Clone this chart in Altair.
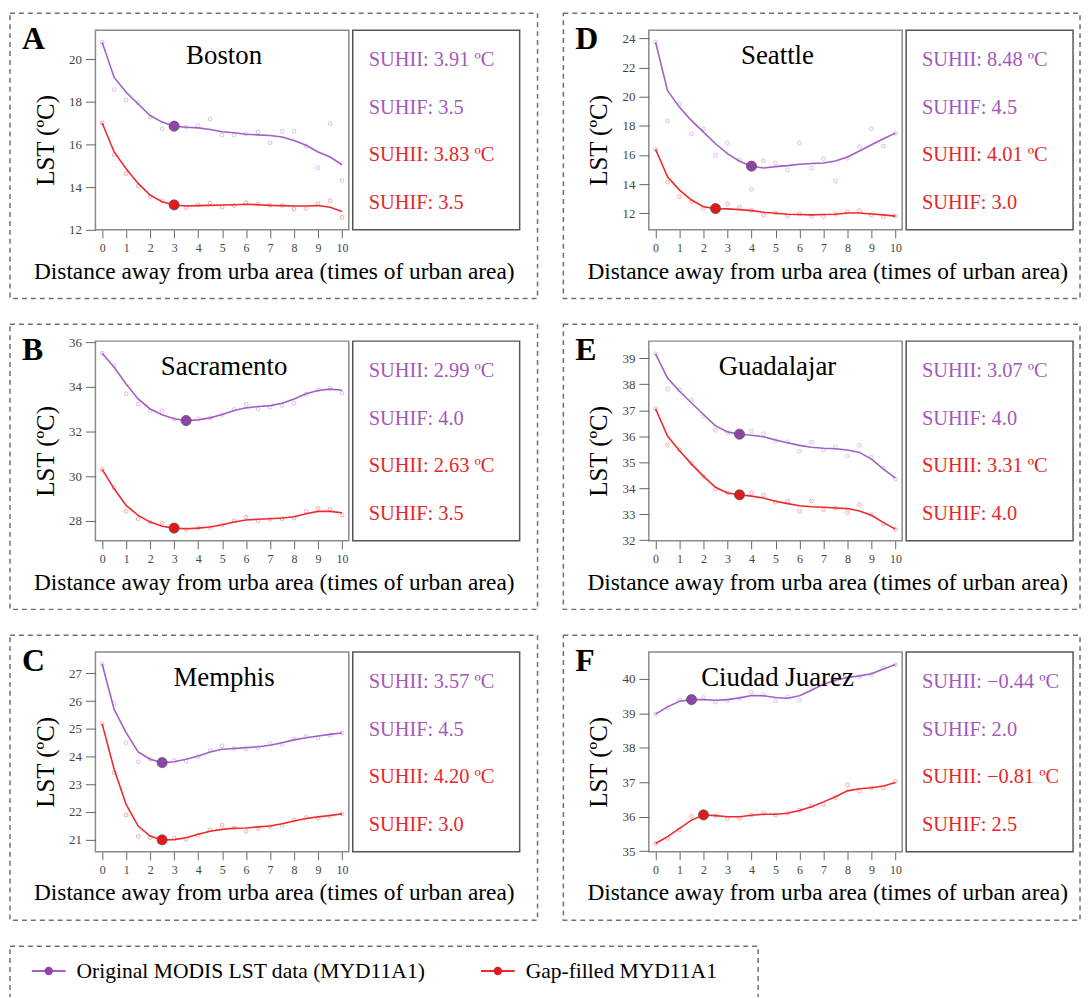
import altair as alt
import pandas as pd

# ---------------- data ----------------
distance = [0.0, 0.5, 1.0, 1.5, 2.0, 2.5, 3.0, 3.5, 4.0, 4.5, 5.0,
            5.5, 6.0, 6.5, 7.0, 7.5, 8.0, 8.5, 9.0, 9.5, 10.0]

series_names = ["Original MODIS LST data (MYD11A1)", "Gap-filled MYD11A1"]

boston_orig_pts = [20.81, 18.58, 18.10, 17.95, 17.28, 16.73, 16.86, 16.81, 16.89, 17.20, 16.44,
                   16.44, 16.50, 16.60, 16.08, 16.62, 16.62, 15.93, 14.90, 16.98, 14.31]
boston_orig_fit = [20.80, 19.15, 18.45, 17.90, 17.36, 17.05, 16.86, 16.81, 16.78, 16.70, 16.60,
                   16.55, 16.48, 16.45, 16.42, 16.35, 16.19, 15.96, 15.65, 15.41, 15.05]
boston_gap_pts = [17.01, 15.52, 14.63, 14.06, 13.56, 13.36, 13.16, 13.03, 13.17, 13.25, 13.06,
                  13.13, 13.27, 13.20, 13.14, 13.13, 12.97, 12.99, 13.22, 13.36, 12.58]
boston_gap_fit = [17.01, 15.65, 14.86, 14.17, 13.62, 13.31, 13.16, 13.11, 13.13, 13.14, 13.16,
                  13.17, 13.19, 13.17, 13.14, 13.13, 13.11, 13.11, 13.13, 13.05, 12.85]

seattle_orig_pts = [23.75, 18.34, 19.50, 17.45, 17.80, 15.98, 16.84, 15.68, 13.64, 15.61, 15.43,
                    14.98, 16.82, 15.11, 15.75, 14.20, 15.77, 16.57, 17.80, 16.61, 17.50]
seattle_orig_fit = [23.75, 20.41, 19.27, 18.36, 17.57, 16.77, 16.09, 15.57, 15.23, 15.11, 15.20,
                    15.27, 15.36, 15.41, 15.45, 15.59, 15.86, 16.27, 16.70, 17.11, 17.50]
seattle_gap_pts = [16.39, 14.14, 13.14, 12.80, 12.34, 12.39, 12.64, 12.39, 12.20, 11.86, 12.02,
                   11.82, 11.95, 11.80, 11.77, 11.93, 12.11, 12.18, 11.89, 11.77, 11.82]
seattle_gap_fit = [16.39, 14.50, 13.59, 12.91, 12.45, 12.32, 12.30, 12.25, 12.18, 12.07, 12.00,
                   11.93, 11.91, 11.89, 11.91, 11.93, 12.02, 12.02, 11.95, 11.89, 11.80]

sacramento_orig_pts = [35.51, 34.96, 33.69, 33.24, 32.91, 32.94, 32.55, 32.49, 32.57, 32.61, 32.76,
                       32.99, 33.22, 33.01, 33.09, 33.16, 33.27, 33.66, 33.87, 33.94, 33.72]
sacramento_orig_fit = [35.51, 34.88, 34.13, 33.46, 33.01, 32.75, 32.57, 32.49, 32.52, 32.61, 32.76,
                       32.94, 33.06, 33.12, 33.16, 33.27, 33.46, 33.69, 33.84, 33.90, 33.85]
sacramento_gap_pts = [30.30, 29.48, 28.42, 28.09, 27.94, 27.90, 27.69, 27.61, 27.67, 27.69, 27.81,
                      28.00, 28.16, 28.00, 28.06, 28.09, 28.12, 28.42, 28.55, 28.51, 28.24]
sacramento_gap_fit = [30.30, 29.43, 28.69, 28.24, 27.94, 27.75, 27.67, 27.64, 27.67, 27.72, 27.82,
                      27.94, 28.03, 28.07, 28.09, 28.12, 28.18, 28.31, 28.42, 28.42, 28.36]

guadalajar_orig_pts = [39.17, 37.81, 37.78, 37.39, 36.78, 36.23, 36.14, 36.08, 36.20, 36.10, 35.82,
                       35.79, 35.42, 35.77, 35.47, 35.58, 35.24, 35.65, 35.19, 34.77, 34.36]
guadalajar_orig_fit = [39.17, 38.24, 37.73, 37.28, 36.84, 36.40, 36.17, 36.08, 36.04, 35.98, 35.86,
                       35.75, 35.65, 35.58, 35.54, 35.52, 35.47, 35.38, 35.12, 34.74, 34.39]
guadalajar_gap_pts = [37.06, 35.67, 35.48, 34.96, 34.46, 33.98, 33.82, 33.75, 33.83, 33.73, 33.47,
                      33.50, 33.12, 33.51, 33.18, 33.24, 33.07, 33.38, 32.99, 32.63, 32.42]
guadalajar_gap_fit = [37.06, 36.01, 35.44, 34.93, 34.46, 34.04, 33.82, 33.75, 33.70, 33.63, 33.50,
                      33.41, 33.33, 33.29, 33.27, 33.24, 33.22, 33.13, 32.96, 32.68, 32.43]

memphis_orig_pts = [27.34, 25.91, 24.50, 23.81, 23.90, 23.78, 23.86, 23.83, 23.99, 24.22, 24.39,
                    24.29, 24.28, 24.32, 24.46, 24.45, 24.64, 24.73, 24.67, 24.76, 24.85]
memphis_orig_fit = [27.34, 25.70, 24.86, 24.17, 23.90, 23.78, 23.81, 23.90, 24.02, 24.16, 24.26,
                    24.29, 24.32, 24.35, 24.41, 24.50, 24.60, 24.68, 24.74, 24.80, 24.85]
memphis_gap_pts = [25.18, 23.42, 21.89, 21.11, 21.07, 20.99, 21.06, 21.01, 21.16, 21.36, 21.52,
                   21.42, 21.30, 21.40, 21.47, 21.52, 21.71, 21.80, 21.78, 21.85, 21.93]
memphis_gap_fit = [25.18, 23.54, 22.27, 21.49, 21.13, 20.99, 21.00, 21.07, 21.19, 21.30, 21.37,
                   21.41, 21.42, 21.46, 21.49, 21.57, 21.67, 21.76, 21.82, 21.87, 21.93]

juarez_orig_pts = [38.98, 39.17, 39.40, 39.40, 39.46, 39.33, 39.37, 39.43, 39.61, 39.54, 39.37,
                   39.48, 39.38, 39.75, 39.87, 39.99, 40.02, 40.06, 40.13, 40.33, 40.42]
juarez_orig_fit = [38.98, 39.19, 39.35, 39.40, 39.40, 39.38, 39.40, 39.45, 39.52, 39.51, 39.46,
                   39.44, 39.51, 39.67, 39.85, 39.96, 40.04, 40.09, 40.15, 40.29, 40.42]
juarez_gap_pts = [35.22, 35.37, 35.62, 36.01, 36.05, 36.02, 35.94, 35.96, 36.05, 36.10, 36.05,
                  36.10, 36.19, 36.31, 36.35, 36.55, 36.92, 36.74, 36.83, 36.84, 37.03]
juarez_gap_fit = [35.22, 35.42, 35.66, 35.90, 36.05, 36.03, 36.00, 36.00, 36.04, 36.07, 36.07,
                  36.10, 36.18, 36.29, 36.43, 36.58, 36.75, 36.81, 36.84, 36.89, 36.99]

# SUHIF positions (distance of the highlighted dot) for original / gap-filled
suhif_x = {"Boston": (3.0, 3.0), "Seattle": (4.0, 2.5), "Sacramento": (3.5, 3.0),
           "Guadalajar": (3.5, 3.5), "Memphis": (2.5, 2.5), "Ciudad Juarez": (1.5, 2.0)}

stat_labels = {
    "Boston": ["SUHII: 3.91 ºC", "SUHIF: 3.5", "SUHII: 3.83 ºC", "SUHIF: 3.5"],
    "Seattle": ["SUHII: 8.48 ºC", "SUHIF: 4.5", "SUHII: 4.01 ºC", "SUHIF: 3.0"],
    "Sacramento": ["SUHII: 2.99 ºC", "SUHIF: 4.0", "SUHII: 2.63 ºC", "SUHIF: 3.5"],
    "Guadalajar": ["SUHII: 3.07 ºC", "SUHIF: 4.0", "SUHII: 3.31 ºC", "SUHIF: 4.0"],
    "Memphis": ["SUHII: 3.57 ºC", "SUHIF: 4.5", "SUHII: 4.20 ºC", "SUHIF: 3.0"],
    "Ciudad Juarez": ["SUHII: \u22120.44 ºC", "SUHIF: 2.0", "SUHII: \u22120.81 ºC", "SUHIF: 2.5"],
}

y_domains = {"Boston": [11.99, 21.37], "Seattle": [10.86, 24.57], "Sacramento": [27.1, 36.05],
             "Guadalajar": [31.98, 39.66], "Memphis": [20.56, 27.77], "Ciudad Juarez": [34.98, 40.78]}
y_ticks = {"Boston": [12, 14, 16, 18, 20], "Seattle": [12, 14, 16, 18, 20, 22, 24],
           "Sacramento": [28, 30, 32, 34, 36], "Guadalajar": [32, 33, 34, 35, 36, 37, 38, 39],
           "Memphis": [21, 22, 23, 24, 25, 26, 27], "Ciudad Juarez": [35, 36, 37, 38, 39, 40]}
x_ticks = [0, 1, 2, 3, 4, 5, 6, 7, 8, 9, 10]

cities = {
    "Boston": (boston_orig_pts, boston_orig_fit, boston_gap_pts, boston_gap_fit),
    "Seattle": (seattle_orig_pts, seattle_orig_fit, seattle_gap_pts, seattle_gap_fit),
    "Sacramento": (sacramento_orig_pts, sacramento_orig_fit, sacramento_gap_pts, sacramento_gap_fit),
    "Guadalajar": (guadalajar_orig_pts, guadalajar_orig_fit, guadalajar_gap_pts, guadalajar_gap_fit),
    "Memphis": (memphis_orig_pts, memphis_orig_fit, memphis_gap_pts, memphis_gap_fit),
    "Ciudad Juarez": (juarez_orig_pts, juarez_orig_fit, juarez_gap_pts, juarez_gap_fit),
}

# ---------------- style ----------------
FONT = "Liberation Serif"
PURPLE_LINE, PURPLE_DOT, PURPLE_TEXT = "#A45FC4", "#8E44A8", "#A358BA"
RED_LINE, RED_DOT, RED_TEXT = "#EC2A2E", "#E01A1C", "#E8262A"
W, H = 255, 201


def txt(s, x, y, size, color="black", weight="normal", align="left",
        baseline="alphabetic", angle=0):
    return alt.Chart(alt.Data(values=[{"t": s}])).mark_text(
        font=FONT, fontSize=size, color=color, fontWeight=weight, align=align,
        baseline=baseline, angle=angle
    ).encode(text="t:N", x=alt.value(x), y=alt.value(y))


def rect(x, x2, y, y2, stroke, dash=None, width=1.5):
    kw = dict(fill="white", fillOpacity=0, stroke=stroke, strokeWidth=width)
    if dash:
        kw["strokeDash"] = dash
    return alt.Chart(alt.Data(values=[{"k": 0}])).mark_rect(**kw).encode(
        x=alt.value(x), x2=alt.value(x2), y=alt.value(y), y2=alt.value(y2))


def panel(name, letter, right_col):
    o_pts, o_fit, g_pts, g_fit = cities[name]
    xenc = alt.X("distance:Q",
                 scale=alt.Scale(domain=[-0.28, 10.28], nice=False, zero=False),
                 axis=alt.Axis(values=x_ticks, title=None, grid=False, domain=False,
                               tickSize=8, tickColor="#666", labelPadding=5,
                               labelFont=FONT, labelFontSize=12, labelColor="#444"))
    yenc = alt.Y("lst:Q",
                 scale=alt.Scale(domain=y_domains[name], nice=False, zero=False),
                 axis=alt.Axis(values=y_ticks[name], title=None, grid=False, domain=False,
                               tickSize=10, tickColor="#666", labelPadding=4,
                               labelFont=FONT, labelFontSize=13, labelColor="#444"))
    layers = []
    box_right = 434 if right_col else 445
    layers.append(rect(-86, box_right, -17, 270, "#707070", dash=[5, 4]))
    layers.append(rect(259, 427, 0, H, "#555555"))
    for pts, fit, lc, dc, dx in [(o_pts, o_fit, PURPLE_LINE, PURPLE_DOT, suhif_x[name][0]),
                                 (g_pts, g_fit, RED_LINE, RED_DOT, suhif_x[name][1])]:
        df_pts = pd.DataFrame({"distance": distance, "lst": pts})
        df_fit = pd.DataFrame({"distance": distance, "lst": fit})
        df_dot = df_fit[df_fit["distance"] == dx]
        layers.append(alt.Chart(df_pts).mark_point(
            shape="circle", filled=False, size=14, strokeWidth=0.9, color=lc, opacity=0.45
        ).encode(x=xenc, y=yenc))
        layers.append(alt.Chart(df_fit).mark_line(color=lc, strokeWidth=1.6).encode(x=xenc, y=yenc))
        layers.append(alt.Chart(df_dot).mark_circle(
            size=105, color=dc, opacity=1, stroke="#555", strokeWidth=0.7
        ).encode(x=xenc, y=yenc))
    layers.append(txt(name, W / 2 + 2, 34, 27, align="center"))
    layers.append(txt(letter, -74, 19, 32, weight="bold"))
    layers.append(txt("LST (ºC)", -50, 111, 25, align="center", baseline="middle", angle=270))
    layers.append(txt("Distance away from urba area (times of urban area)", 180, 250, 23.5,
                      align="center"))
    labels = stat_labels[name]
    for i, (s, c) in enumerate(zip(labels, [PURPLE_TEXT, PURPLE_TEXT, RED_TEXT, RED_TEXT])):
        layers.append(txt(s, 275, 36 + 48 * i, 20.5, color=c))
    return alt.layer(*layers).properties(
        width=W, height=H, view=alt.ViewBackground(stroke="#8a8a8a", strokeWidth=1.5))


# ---------------- legend ----------------
legend_colors = [(PURPLE_LINE, PURPLE_DOT), (RED_LINE, RED_DOT)]
leg_layers = [rect(-86, 667, 0, 70, "#707070", dash=[5, 4])]
for i, (label, (lc, dc)) in enumerate(zip(series_names, legend_colors)):
    x0 = -64 + 452 * i
    leg_layers.append(alt.Chart(alt.Data(values=[{"k": 0}])).mark_rule(
        color=lc, strokeWidth=2).encode(x=alt.value(x0), x2=alt.value(x0 + 34), y=alt.value(25)))
    leg_layers.append(alt.Chart(alt.Data(values=[{"k": 0}])).mark_circle(
        color=dc, size=70, opacity=1).encode(x=alt.value(x0 + 17), y=alt.value(25)))
    leg_layers.append(txt(label, x0 + 45, 25, 21.7, baseline="middle"))
legend = alt.layer(*leg_layers).properties(
    width=W, height=40,
    view=alt.ViewBackground(stroke="transparent", strokeWidth=0))

panels = alt.vconcat(
    alt.hconcat(panel("Boston", "A", False), panel("Seattle", "D", True), spacing=22),
    alt.hconcat(panel("Sacramento", "B", False), panel("Guadalajar", "E", True), spacing=22),
    alt.hconcat(panel("Memphis", "C", False), panel("Ciudad Juarez", "F", True), spacing=22),
    spacing=22,
)

chart = alt.vconcat(panels, legend, spacing=23).properties(
    padding={"left": 0, "top": 0, "right": 0, "bottom": 0},
    background="white",
)

chart.save("out.html", embed_options={"renderer": "svg", "actions": False})
